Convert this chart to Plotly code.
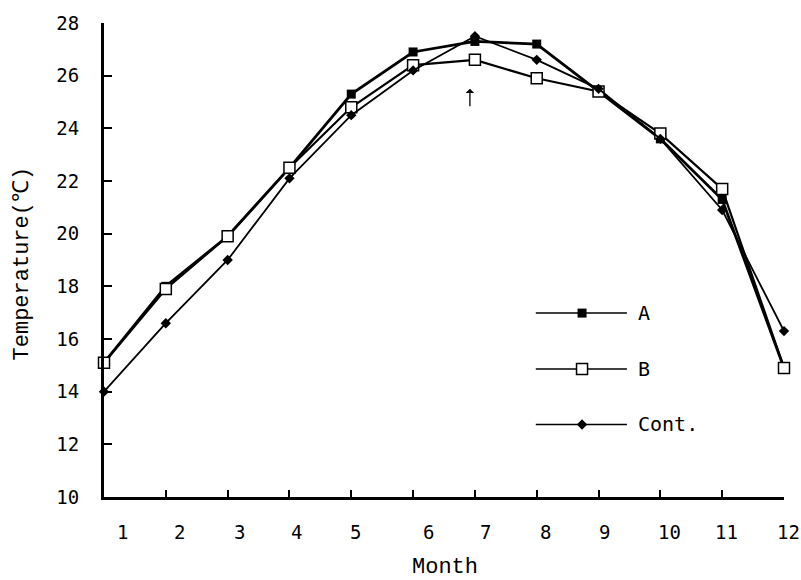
import plotly.graph_objects as go

# ---- data ----
months = list(range(1, 13))
month_labels = [str(m) for m in months]
temp_a = [15.1, 18.0, 19.9, 22.5, 25.3, 26.9, 27.3, 27.2, 25.4, 23.6, 21.3, 14.9]
temp_b = [15.1, 17.9, 19.9, 22.5, 24.8, 26.4, 26.6, 25.9, 25.4, 23.8, 21.7, 14.9]
temp_cont = [14.0, 16.6, 19.0, 22.1, 24.5, 26.2, 27.5, 26.6, 25.5, 23.6, 20.9, 16.3]
y_ticks = [10, 12, 14, 16, 18, 20, 22, 24, 26, 28]
series_names = ["A", "B", "Cont."]
arrow_month = 7

# ---- style ----
TICK_FONT = dict(family="DejaVu Sans Mono", size=19, color="black")
TITLE_FONT = dict(family="Liberation Mono", size=22, color="black")
LEGEND_FONT = dict(family="DejaVu Sans Mono", size=20, color="black")
label_xshift = [18, 14, 12, 7, 4, 15, 11, 9, 6, 9, 4, 4]

fig = go.Figure()

fig.add_trace(go.Scatter(
    x=months, y=temp_a, mode="lines+markers", name=series_names[0],
    line=dict(color="black", width=2.8),
    marker=dict(symbol="square", size=9, color="black"),
    cliponaxis=False, showlegend=False))
fig.add_trace(go.Scatter(
    x=months, y=temp_b, mode="lines+markers", name=series_names[1],
    line=dict(color="black", width=2.2),
    marker=dict(symbol="square", size=11, color="white",
                line=dict(color="black", width=1.5)),
    cliponaxis=False, showlegend=False))
fig.add_trace(go.Scatter(
    x=months, y=temp_cont, mode="lines+markers", name=series_names[2],
    line=dict(color="black", width=1.8),
    marker=dict(symbol="diamond", size=8, color="black"),
    cliponaxis=False, showlegend=False))

# ---- hand-drawn style legend on an overlay axis (0..1 of plot area) ----
leg_x0, leg_x1, leg_xm = 0.635, 0.769, 0.703
leg_ys = [0.388, 0.270, 0.153]
leg_markers = [
    dict(symbol="square", size=9, color="black"),
    dict(symbol="square", size=11, color="white", line=dict(color="black", width=1.5)),
    dict(symbol="diamond", size=8, color="black"),
]
for name, ly, mk in zip(series_names, leg_ys, leg_markers):
    fig.add_trace(go.Scatter(
        x=[leg_x0, leg_x1], y=[ly, ly], mode="lines", xaxis="x2", yaxis="y2",
        line=dict(color="black", width=1.5), showlegend=False, hoverinfo="skip"))
    fig.add_trace(go.Scatter(
        x=[leg_xm], y=[ly], mode="markers", xaxis="x2", yaxis="y2",
        marker=mk, showlegend=False, hoverinfo="skip"))
    fig.add_annotation(x=0.782, y=ly, xref="x2", yref="y2", text=name,
                       showarrow=False, xanchor="left", yanchor="middle",
                       font=LEGEND_FONT)

# ---- x tick labels (offset as in the reference) ----
for m, lab, dx in zip(months, month_labels, label_xshift):
    fig.add_annotation(x=m, y=0, xref="x", yref="paper", text=lab,
                       showarrow=False, xanchor="center", yanchor="middle",
                       yshift=-35, xshift=dx, font=TICK_FONT)

# ---- axis titles ----
fig.add_annotation(x=0.5, y=0, xref="paper", yref="paper", text="Month",
                   showarrow=False, xanchor="center", yanchor="middle",
                   xshift=1, yshift=-70, font=TITLE_FONT)
fig.add_annotation(x=0, y=0.4927, xref="paper", yref="paper",
                   text="Temperature(℃)", textangle=-90,
                   showarrow=False, xanchor="center", yanchor="middle",
                   xshift=-82, font=TITLE_FONT)

# ---- arrow marking month 7 ----
fig.add_annotation(x=arrow_month, y=25.5, xref="x", yref="y", text="",
                   showarrow=True, arrowhead=1, arrowsize=1.1, arrowwidth=1.3,
                   arrowcolor="black", ax=0, ay=19, xshift=-5)

fig.update_layout(
    width=801, height=580,
    margin=dict(l=104, r=17, t=20, b=83),
    paper_bgcolor="white", plot_bgcolor="white",
    showlegend=False,
    xaxis=dict(range=[1, 12], tickvals=months, ticktext=month_labels,
               showticklabels=False, ticks="inside", ticklen=7, tickwidth=2,
               tickcolor="black", showline=True, linecolor="black", linewidth=3,
               showgrid=False, zeroline=False, mirror=False),
    yaxis=dict(range=[10, 28], tickvals=y_ticks, ticktext=[str(v) for v in y_ticks],
               ticks="inside", ticklen=8, tickwidth=2, tickcolor="black",
               showline=True, linecolor="black", linewidth=3,
               showgrid=False, zeroline=False, tickfont=TICK_FONT,
               ticklabelstandoff=18),
    xaxis2=dict(range=[0, 1], overlaying="x", visible=False),
    yaxis2=dict(range=[0, 1], overlaying="y", visible=False),
)

fig.write_html("out.html")
